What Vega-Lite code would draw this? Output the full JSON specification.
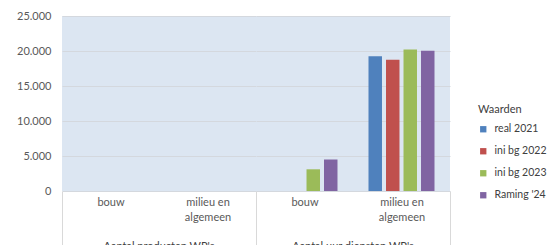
{
  "$schema": "https://vega.github.io/schema/vega-lite/v6.json",
  "padding": {"left": 16, "top": 10, "right": 0, "bottom": 0},
  "background": "white",
  "data": {"values": [
    {"groep": "Aantal producten WP's", "cat": "bouw", "serie": "real 2021", "waarde": 0},
    {"groep": "Aantal producten WP's", "cat": "bouw", "serie": "ini bg 2022", "waarde": 0},
    {"groep": "Aantal producten WP's", "cat": "bouw", "serie": "ini bg 2023", "waarde": 0},
    {"groep": "Aantal producten WP's", "cat": "bouw", "serie": "Raming '24", "waarde": 0},
    {"groep": "Aantal producten WP's", "cat": "milieu en algemeen", "serie": "real 2021", "waarde": 0},
    {"groep": "Aantal producten WP's", "cat": "milieu en algemeen", "serie": "ini bg 2022", "waarde": 0},
    {"groep": "Aantal producten WP's", "cat": "milieu en algemeen", "serie": "ini bg 2023", "waarde": 0},
    {"groep": "Aantal producten WP's", "cat": "milieu en algemeen", "serie": "Raming '24", "waarde": 0},
    {"groep": "Aantal uur diensten WP's", "cat": "bouw", "serie": "real 2021", "waarde": 0},
    {"groep": "Aantal uur diensten WP's", "cat": "bouw", "serie": "ini bg 2022", "waarde": 0},
    {"groep": "Aantal uur diensten WP's", "cat": "bouw", "serie": "ini bg 2023", "waarde": 3100},
    {"groep": "Aantal uur diensten WP's", "cat": "bouw", "serie": "Raming '24", "waarde": 4500},
    {"groep": "Aantal uur diensten WP's", "cat": "milieu en algemeen", "serie": "real 2021", "waarde": 19250},
    {"groep": "Aantal uur diensten WP's", "cat": "milieu en algemeen", "serie": "ini bg 2022", "waarde": 18750},
    {"groep": "Aantal uur diensten WP's", "cat": "milieu en algemeen", "serie": "ini bg 2023", "waarde": 20200},
    {"groep": "Aantal uur diensten WP's", "cat": "milieu en algemeen", "serie": "Raming '24", "waarde": 20050}
  ]},
  "facet": {
    "column": {
      "field": "groep", "type": "nominal",
      "sort": ["Aantal producten WP's", "Aantal uur diensten WP's"],
      "header": {"title": null, "labelOrient": "bottom", "labelFontSize": 11, "labelFont": "Lato", "labelColor": "#404040", "labelPadding": -11}
    }
  },
  "spacing": 0,
  "spec": {
    "width": 194,
    "height": 175,
    "mark": {"type": "bar"},
    "encoding": {
      "x": {
        "field": "cat", "type": "nominal", "sort": ["bouw", "milieu en algemeen"],
        "scale": {"paddingInner": 0, "paddingOuter": 0},
        "axis": {"title": null, "labelAngle": 0, "ticks": true, "tickBand": "extent", "tickSize": 60, "tickColor": "#d9d9d9",
                 "tickOpacity": {"condition": {"test": "datum.index == 0", "value": 0}, "value": 1},
                 "domain": false, "labelPadding": -55, "labelLineHeight": 15,
                 "labelExpr": "datum.value == 'milieu en algemeen' ? ['milieu en', 'algemeen'] : datum.value"}
      },
      "xOffset": {"field": "serie", "type": "nominal", "sort": ["real 2021", "ini bg 2022", "ini bg 2023", "Raming '24"], "scale": {"paddingInner": 0.23, "paddingOuter": 0.886}},
      "y": {
        "field": "waarde", "type": "quantitative",
        "scale": {"domain": [0, 25000]},
        "axis": {"title": null, "format": ",d", "values": [0, 5000, 10000, 15000, 20000, 25000], "ticks": false, "domain": false, "labelPadding": 11}
      },
      "color": {
        "field": "serie", "type": "nominal",
        "sort": ["real 2021", "ini bg 2022", "ini bg 2023", "Raming '24"],
        "scale": {"range": ["#4f81bd", "#c0504d", "#9bbb59", "#8064a2"]},
        "legend": {"title": "Waarden", "orient": "none", "legendX": 416, "legendY": 88, "symbolType": "square", "symbolSize": 40, "rowPadding": 11, "titlePadding": 9}
      }
    }
  },
  "config": {
    "locale": {"number": {"decimal": ",", "thousands": ".", "grouping": [3], "currency": ["€", ""]}},
    "font": "Lato",
    "view": {"fill": "#dce6f2", "stroke": null},
    "axis": {"labelFont": "Lato", "labelFontSize": 11, "labelColor": "#595959", "gridColor": "#d4d8de", "gridWidth": 1},
    "legend": {"labelFont": "Lato", "labelFontSize": 10.5, "labelColor": "#404040", "titleFont": "Lato", "titleFontSize": 11, "titleFontWeight": "normal", "titleColor": "#404040", "labelOffset": 6}
  }
}
